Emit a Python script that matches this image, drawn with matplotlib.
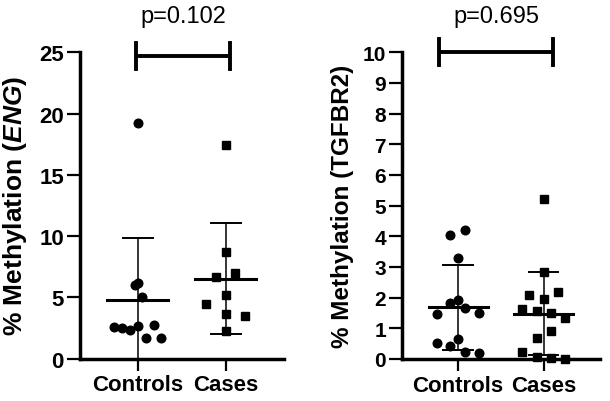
import matplotlib
matplotlib.use("Agg")
import matplotlib.pyplot as plt
import matplotlib.transforms as mtransforms
import numpy as np

plt.rcParams['font.family'] = ['Liberation Sans', 'DejaVu Sans']
plt.rcParams['mathtext.fontset'] = 'custom'
plt.rcParams['mathtext.it'] = 'Liberation Sans:italic:bold'
plt.rcParams['mathtext.rm'] = 'Liberation Sans:bold'

groups = ["Controls", "Cases"]

# % methylation, ENG
eng_controls = [19.24, 6.0, 6.2, 5.05, 2.57, 2.47, 2.35, 2.68, 2.76, 1.67, 1.65]
eng_cases = [17.44, 8.73, 6.63, 6.96, 5.19, 4.43, 3.64, 3.45, 2.27]
eng_p = "p=0.102"

# % methylation, TGFBR2
tgf_controls = [4.04, 4.21, 3.30, 1.83, 1.93, 1.65, 1.46, 1.49, 0.53, 0.65, 0.41, 0.22, 0.19]
tgf_cases = [5.21, 2.85, 2.10, 2.20, 1.95, 1.62, 1.58, 1.49, 1.34, 0.91, 0.67, 0.22, 0.05, 0.03, 0.0]
tgf_p = "p=0.695"

# horizontal scatter of the points (category units)
eng_controls_dx = [0, -0.03, 0.0, 0.05, -0.27, -0.18, -0.09, 0.0, 0.18, 0.09, 0.26]
eng_cases_dx = [0, 0, -0.11, 0.11, 0, -0.22, 0, 0.22, 0]
tgf_controls_dx = [-0.09, 0.08, 0, -0.09, 0, 0.08, -0.25, 0.24, -0.25, 0, -0.09, 0.08, 0.24]
tgf_cases_dx = [0, 0, -0.165, 0.17, 0, -0.25, -0.08, 0.085, 0.25, 0.085, -0.08, -0.25, -0.08, 0.085, 0.25]


def draw_panel(ax, controls, cases, dxs, ylim, yticks, ylabel, ptext, bracket,
               tick_fs, label_fs, label_x):
    markers = ["o", "s"]
    sizes = [6.2, 5.8]
    for i, vals in enumerate([controls, cases]):
        vals = np.array(vals)
        xs = i + np.array(dxs[i])
        ax.plot(xs, vals, linestyle="none", marker=markers[i], ms=sizes[i],
                color="black", clip_on=False, zorder=3)
        m = vals.mean()
        sd = vals.std(ddof=1)
        ax.plot([i - 0.345, i + 0.345], [m, m], color="black", lw=2.2, zorder=4)
        ax.plot([i, i], [m - sd, m + sd], color="black", lw=1.1, zorder=4)
        for v in (m - sd, m + sd):
            if v >= 0:
                ax.plot([i - 0.17, i + 0.17], [v, v], color="black", lw=1.4, zorder=4)

    ax.set_xlim(-0.655, 1.66)
    ax.set_ylim(*ylim)
    ax.set_yticks(yticks)
    ax.set_xticks([0, 1])
    ax.set_xticklabels(groups, fontsize=16, fontweight="bold")
    for lab in ax.get_yticklabels():
        lab.set_fontsize(tick_fs)
        lab.set_fontweight("bold")
    ax.spines["top"].set_visible(False)
    ax.spines["right"].set_visible(False)
    for s in ("left", "bottom"):
        ax.spines[s].set_linewidth(2.5)
    ax.tick_params(axis="y", length=9.5, width=1.6, pad=2)
    ax.tick_params(axis="x", length=8.5, width=1.6, pad=3)
    ax.set_ylabel(ylabel, fontsize=label_fs, fontweight="bold")
    ax.yaxis.set_label_coords(label_x, 0.5)

    # significance bracket
    x0, x1, yb, h = bracket
    ax.plot([x0, x1], [yb, yb], color="black", lw=2.8, clip_on=False, solid_capstyle="butt")
    ax.plot([x0, x0], [yb - h, yb + h], color="black", lw=2.8, clip_on=False)
    ax.plot([x1, x1], [yb - h, yb + h], color="black", lw=2.8, clip_on=False)
    trans = mtransforms.blended_transform_factory(ax.transData, ax.transAxes)
    ax.text((x0 + x1) / 2, 1.10, ptext, transform=trans, ha="center", va="baseline",
            fontsize=17)


fig = plt.figure(figsize=(6.1, 4.02), dpi=100)
ax1 = fig.add_axes([0.1311, 0.1057, 0.3344, 0.7617])
ax2 = fig.add_axes([0.659, 0.1045, 0.3246, 0.763])

draw_panel(ax1, eng_controls, eng_cases, [eng_controls_dx, eng_cases_dx],
           (0, 25), [0, 5, 10, 15, 20, 25], r"% Methylation ($\mathit{ENG}$)",
           eng_p, (-0.02, 1.05, 24.7, 1.07), 16, 19, -0.252)
draw_panel(ax2, tgf_controls, tgf_cases, [tgf_controls_dx, tgf_cases_dx],
           (0, 10), list(range(11)), "% Methylation (TGFBR2)",
           tgf_p, (-0.22, 1.11, 10.0, 0.43), 15, 17.5, -0.24)

fig.savefig("out.png", dpi=100)
